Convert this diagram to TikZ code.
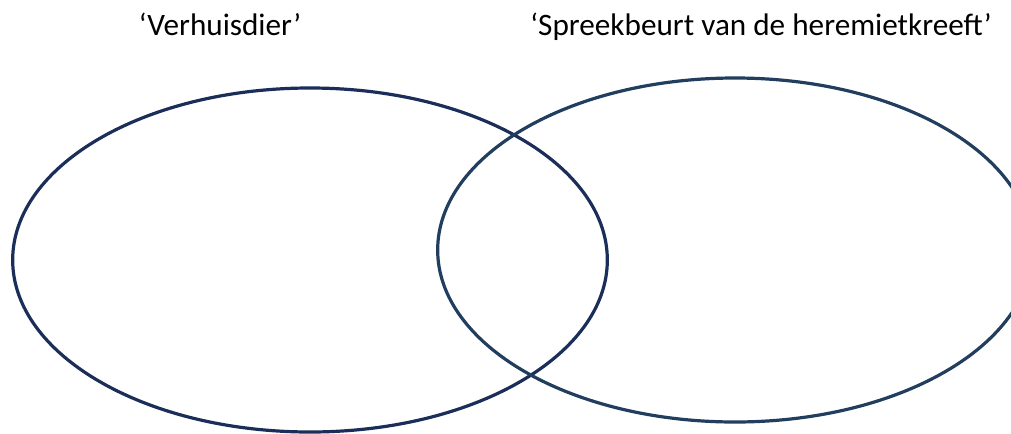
\documentclass[tikz,border=0pt]{standalone}
\usepackage{fontspec}
\setmainfont{Carlito}
\usetikzlibrary{shapes.geometric, positioning}

\begin{document}
\begin{tikzpicture} [x = 0.75pt, y = -0.75pt,
    set/.style = {ellipse, draw, line width = 2.4pt, inner sep = 0pt,
                  minimum width = 446pt, minimum height = 258pt},
    title/.style = {font = \fontsize{23.4}{28}\selectfont, anchor = base, inner sep = 0pt}]

\useasboundingbox (0,0) rectangle (1011,433);

% the two sets
\node (verhuis) [set, draw = {rgb,255:red,27;green,46;blue,90}] at (310,260) {};
\node (spreek) [set, draw = {rgb,255:red,34;green,62;blue,94}] at (735,250) {};

% titles
\node (tverhuis) [title] at (220,35) {‘Verhuisdier’};
\node (tspreek) [title] at (761,35) {‘Spreekbeurt van de heremietkreeft’};

\end{tikzpicture}
\end{document}
